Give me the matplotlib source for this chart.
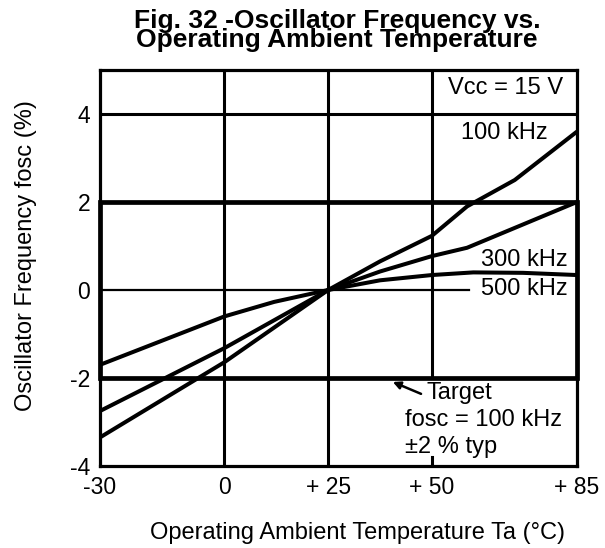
import matplotlib

matplotlib.use('Agg')

import matplotlib.pyplot as plt
from matplotlib.patches import Rectangle

plt.rcParams['font.family'] = ['Liberation Sans', 'DejaVu Sans']

# ambient temperature (deg C) and frequency deviation (%) per oscillator setting
temp_100k = [-30, 0, 25, 37.5, 50, 58.5, 70, 85]
dev_100k = [-3.35, -1.64, 0.0, 0.65, 1.23, 1.9, 2.5, 3.6]

temp_300k = [-30, 0, 25, 37.5, 50, 58.5, 85]
dev_300k = [-2.75, -1.32, 0.0, 0.42, 0.77, 0.96, 2.0]

temp_500k = [-30, -15, 0, 12, 25, 37.5, 50, 60, 72, 85]
dev_500k = [-1.70, -1.15, -0.60, -0.27, 0.0, 0.22, 0.34, 0.40, 0.39, 0.34]

x_ticks = [-30, 0, 25, 50, 85]
x_tick_labels = ['-30', '0', '+ 25', '+ 50', '+ 85']
y_ticks = [-4, -2, 0, 2, 4]
y_tick_labels = ['-4', '-2', '0', '2', '4']

# target window: 100 kHz +/- 2 %
target_lo, target_hi = -2, 2

FS = 17

fig = plt.figure(figsize=(6.05, 5.48), dpi=100)
ax = fig.add_axes([0.1653, 0.1496, 0.7884, 0.7227])
ax.set_xlim(-30, 85)
ax.set_ylim(-4, 5)

for s in ax.spines.values():
    s.set_linewidth(2.3)

ax.set_xticks(x_ticks)
ax.set_xticklabels(x_tick_labels)
ax.set_yticks(y_ticks)
ax.set_yticklabels(y_tick_labels)
ax.tick_params(length=0, labelsize=16.5)
ax.tick_params(axis='x', pad=7)
ax.tick_params(axis='y', pad=7)

# grid lines; the +50 line is broken where the target note sits
for xv in [0, 25]:
    ax.axvline(xv, color='black', lw=2.2, zorder=1)
ax.plot([50, 50], [target_lo, 5], color='black', lw=2.2, zorder=1)
ax.plot([50, 50], [-4, -3.8], color='black', lw=2.2, zorder=1)
ax.axhline(4, color='black', lw=2.2, zorder=1)
ax.plot([-30, 59], [0, 0], color='black', lw=1.6, zorder=1)

# target band box
ax.add_patch(Rectangle((-30, target_lo), 115, target_hi - target_lo, fill=False,
                       lw=3.4, edgecolor='black', zorder=3, clip_on=False))

for xs, ys in [(temp_100k, dev_100k), (temp_300k, dev_300k), (temp_500k, dev_500k)]:
    ax.plot(xs, ys, color='black', lw=2.9, solid_capstyle='butt', zorder=4)

ax.text(81.6, 4.59, 'Vcc = 15 V', ha='right', va='center', fontsize=FS)
ax.text(78.0, 3.57, '100 kHz', ha='right', va='center', fontsize=FS)
ax.text(82.8, 0.68, '300 kHz', ha='right', va='center', fontsize=FS, zorder=5)
ax.text(82.8, 0.02, '500 kHz', ha='right', va='center', fontsize=FS)

ax.annotate('', xy=(40.6, -2.09), xytext=(47.4, -2.36),
            arrowprops=dict(arrowstyle='-|>', color='black', lw=1.8,
                            mutation_scale=11, shrinkA=0, shrinkB=0))
ax.text(48.8, -2.34, 'Target', ha='left', va='center', fontsize=FS, zorder=5)
ax.text(43.5, -2.95, 'fosc = 100 kHz', ha='left', va='center', fontsize=FS, zorder=5)
ax.text(43.5, -3.57, '\u00b12 % typ', ha='left', va='center', fontsize=FS, zorder=5)

fig.text(358 / 605, 1 - 533 / 548, 'Operating Ambient Temperature Ta (\u00b0C)',
         ha='center', va='center', fontsize=FS)
fig.text(26 / 605, 1 - 256 / 548, 'Oscillator Frequency fosc (%)',
         ha='center', va='center', rotation=90, fontsize=FS)

fig.text(337 / 605, 1 - 9 / 548, 'Fig. 32 -Oscillator Frequency vs.\nOperating Ambient Temperature',
         ha='center', va='top', fontsize=19, fontweight='bold', linespacing=0.74)

fig.savefig('out.png', dpi=100)
